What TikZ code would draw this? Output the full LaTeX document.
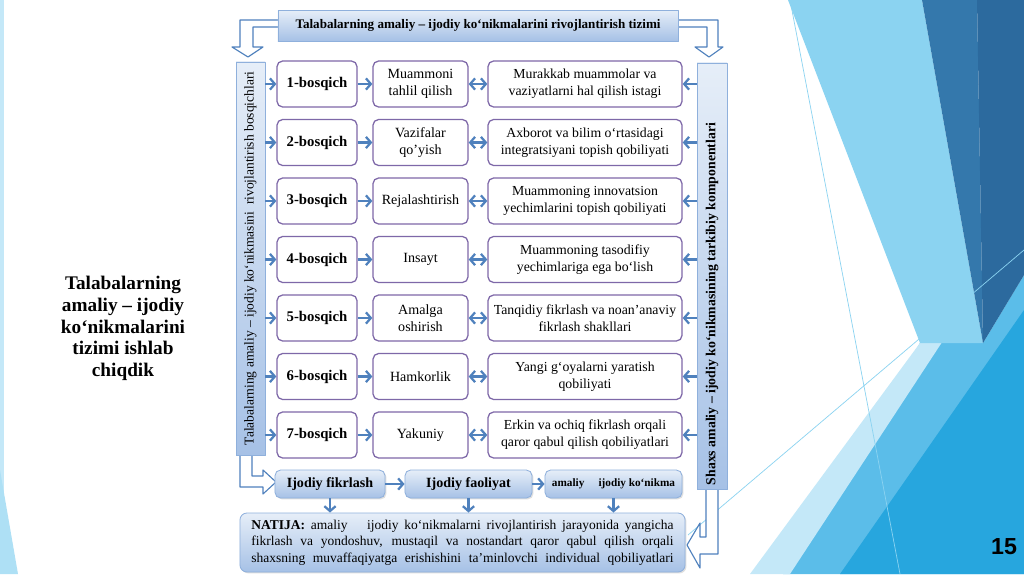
\documentclass[tikz,border=0pt]{standalone}
\usepackage{fontspec}
\setmainfont{Liberation Serif}
\newfontfamily\numfont{Liberation Sans}
\usetikzlibrary{arrows.meta,shadows}
\definecolor{arr}{HTML}{4F81BD}
\definecolor{pur}{HTML}{7E68A8}
\definecolor{gtop}{HTML}{E6EEF8}
\definecolor{gbot}{HTML}{A6C1E6}
\definecolor{gline}{HTML}{8FB0DC}
\definecolor{bgA}{HTML}{8BD3F1}
\definecolor{bgB}{HTML}{3478AC}
\definecolor{bgC}{HTML}{2C6A9E}
\definecolor{bgD}{HTML}{C4E8F8}
\definecolor{bgE}{HTML}{5BBDE9}
\definecolor{bgF}{HTML}{27A6DE}
\begin{document}
\begin{tikzpicture}[x=0.025cm, y=-0.025cm, line join=round,
	box/.style={draw=pur, line width=0.9pt, rounded corners=4pt, fill=white, align=center, inner sep=1pt},
	stage/.style={box, minimum width=2cm, minimum height=1.15cm, font=\fontsize{10.5}{12}\selectfont\bfseries},
	act/.style={box, minimum width=2.375cm, minimum height=1.15cm, font=\fontsize{10}{12}\selectfont},
	comp/.style={box, minimum width=4.85cm, minimum height=1.15cm, font=\fontsize{9.8}{12}\selectfont},
	grad/.style={draw=gline, line width=0.6pt, top color=gtop, bottom color=gbot,
		drop shadow={opacity=0.25, shadow xshift=1pt, shadow yshift=-1pt}},
	bar/.style={grad, rotate=90, inner sep=0pt},
	res/.style={grad, rounded corners=4pt, minimum height=0.7cm, font=\fontsize{10}{12}\selectfont\bfseries},
	ar/.style={draw=arr, line width=1.6pt, -{Straight Barb[length=3.5pt,width=8pt]}},
	dar/.style={ar, {Straight Barb[length=3.5pt,width=8pt]}-{Straight Barb[length=3.5pt,width=8pt]}},
	barrow/.style={draw=arr, line width=0.8pt, fill=white}]
	\useasboundingbox (0,0) rectangle (1024,574);
	\fill[white] (0,0) rectangle (1024,574);
	% nen
	\fill[bgD] (0,0) rectangle (4,574);
	\fill[bgA!70!white] (0,470)--(18,574)--(0,574)--cycle;
	\fill[bgE] (920,343)--(983,343)--(1024,275)--(1024,574)--(783,574)--cycle;
	\fill[bgD] (750,574)--(920,343)--(950,330)--(790,574)--cycle;
	\fill[bgF] (840,574)--(1024,310)--(1024,574)--cycle;
	\fill[bgA] (788,0)--(922,0)--(983,343)--(920,343)--cycle;
	\fill[bgB] (922,0)--(977,0)--(983,343)--cycle;
	\fill[bgC] (977,0)--(1024,0)--(1024,275)--(983,343)--cycle;
	\draw[bgA, line width=0.5pt] (790,0)--(900,574) (688,535)--(1024,250);
	% mui ten khoi
	\draw[barrow] (280,20)--(240,20)--(240,47)--(232,47)--(248,57)--(263,47)--(253,47)--(253,27)--(280,27)--cycle;
	\draw[barrow] (676,20)--(718,20)--(718,47)--(723,47)--(709,57)--(695,47)--(707,47)--(707,27)--(676,27)--cycle;
	\draw[barrow] (240,453)--(240,487)--(263,487)--(263,494)--(276,482)--(263,470)--(263,476)--(252,476)--(252,453)--cycle;
	\draw[barrow] (718,487)--(718,554)--(700,554)--(700,568)--(687,545)--(700,523)--(700,537)--(706,537)--(706,487)--cycle;
	% khoi chinh
	\node[grad, minimum width=10cm, minimum height=0.775cm, font=\fontsize{9.3}{11}\selectfont\bfseries] (T) at (478,25.5)
		{Talabalarning amaliy – ijodiy ko‘nikmalarini rivojlantirish tizimi};
	\node[bar, minimum width=9.825cm, minimum height=0.725cm, font=\fontsize{9.6}{11}\selectfont] (L) at (250.5,258.5)
		{Talabalarning amaliy – ijodiy ko‘nikmasini\ \ rivojlantirish bosqichlari};
	\node[bar, minimum width=10.65cm, minimum height=0.75cm, font=\fontsize{9.8}{12}\selectfont\bfseries] (R) at (712,276)
		{Shaxs amaliy – ijodiy ko‘nikmasining tarkibiy komponentlari\hspace*{1.4cm}};
	\foreach \i/\a/\b in {1/{Muammoni\\tahlil qilish}/{Murakkab muammolar va\\vaziyatlarni hal qilish istagi},
		2/{Vazifalar\\qo’yish}/{Axborot va bilim o‘rtasidagi\\integratsiyani topish qobiliyati},
		3/{Rejalashtirish}/{Muammoning innovatsion\\yechimlarini topish qobiliyati},
		4/{Insayt}/{Muammoning tasodifiy\\yechimlariga ega bo‘lish},
		5/{Amalga\\oshirish}/{Tanqidiy fikrlash va noan’anaviy\\fikrlash shakllari},
		6/{Hamkorlik}/{Yangi g‘oyalarni yaratish\\qobiliyati},
		7/{Yakuniy}/{Erkin va ochiq fikrlash orqali\\qaror qabul qilish qobiliyatlari}}{
		\node[stage] (s\i) at (317,{84+58.5*(\i-1)}) {\i-bosqich};
		\node[act] (a\i) at (420.5,{84+58.5*(\i-1)}) {\a};
		\node[comp] (c\i) at (585,{84+58.5*(\i-1)}) {\b};
		\draw[ar] (s\i.west -| L.south) -- (s\i.west);
		\draw[ar] (s\i.east) -- (a\i.west);
		\draw[dar] (a\i.east) -- (c\i.west);
		\draw[ar] (c\i.east -| R.north) -- (c\i.east);
	}
	% natija
	\node[res, minimum width=2.75cm] (F1) at (330,484) {Ijodiy fikrlash};
	\node[res, minimum width=3.175cm] (F2) at (468.5,484) {Ijodiy faoliyat};
	\node[res, minimum width=3.425cm, font=\fontsize{8}{10}\selectfont\bfseries] (F3) at (613.5,484) {amaliy\quad\ ijodiy ko‘nikma};
	\node[grad, rounded corners=5pt, minimum width=11.125cm, minimum height=1.475cm, text width=10.55cm, inner xsep=0.2875cm,
		align=justify, font=\fontsize{9.6}{11.7}\selectfont] (N) at (462.5,542.5)
		{\parfillskip=0pt \textbf{NATIJA:} amaliy\quad\ ijodiy ko‘nikmalarni rivojlantirish jarayonida yangicha\linebreak
		fikrlash va yondoshuv, mustaqil va nostandart qaror qabul qilish orqali\linebreak
		shaxsning muvaffaqiyatga erishishini ta’minlovchi individual qobiliyatlari\par};
	\draw[ar] (F1.east) -- (F2.west);
	\draw[ar] (F2.east) -- (F3.west);
	\foreach \f in {F1,F2,F3}{
		\draw[ar] (\f.south) -- (\f.south |- N.north);}
	% chu
	\node[font=\fontsize{13.7}{15.5}\selectfont\bfseries, align=center] (txt) at (123,328.5)
		{Talabalarning\\amaliy – ijodiy\\ko‘nikmalarini\\tizimi ishlab\\chiqdik};
	\node[font=\numfont\fontsize{16.5}{18}\selectfont\bfseries] (pg) at (1004,547) {15};
\end{tikzpicture}
\end{document}
